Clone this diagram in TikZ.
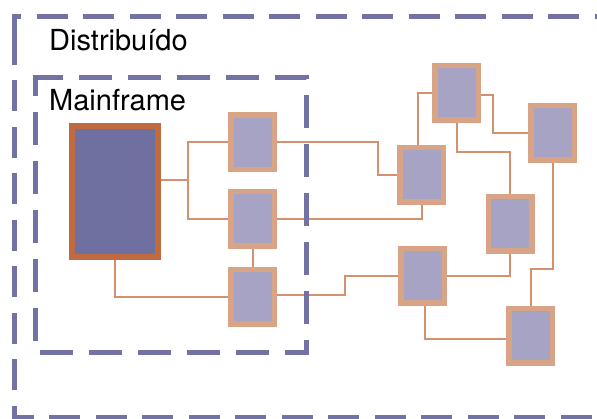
\documentclass[tikz,border=0pt]{standalone}
\usepackage{fontspec}
\setmainfont{TeX Gyre Heros}
\pgfdeclarelayer{bg}
\pgfsetlayers{bg,main}
\definecolor{dashc}{HTML}{7373A3}
\definecolor{mfborder}{HTML}{C06A40}
\definecolor{mffill}{HTML}{7070A0}
\definecolor{boxborder}{HTML}{D9A486}
\definecolor{boxfill}{HTML}{A6A3C4}
\definecolor{linkc}{HTML}{D4906F}
\tikzset{
  mfbox/.style={draw=mfborder, fill=mffill, line width=6pt, minimum width=86pt, minimum height=131pt, inner sep=0pt},
  smallbox/.style={draw=boxborder, fill=boxfill, line width=5.5pt, minimum width=43.5pt, minimum height=54.5pt, inner sep=0pt},
  link/.style={draw=linkc, line width=2pt},
  outerdash/.style={draw=dashc, line width=5pt, dash pattern=on 31pt off 15.5pt},
  innerdash/.style={draw=dashc, line width=5pt, dash pattern=on 33pt off 16pt},
  lbl/.style={anchor=base west, inner sep=0pt, font=\fontsize{29}{34}\selectfont}
}
\begin{document}
\begin{tikzpicture}[x=1pt, y=-1pt]
\useasboundingbox (0,0) rectangle (597,418);
\clip (0,0) rectangle (597,418);
% dashed containers
\draw[outerdash] (14,40) -- (14,16) -- (625,16) -- (625,417) -- (14,417) -- cycle;
\draw[innerdash] (35,82) -- (35,77) -- (306,77) -- (306,352) -- (35,352) -- cycle;
% labels
\node[lbl] (ldist) at (49,50) {Distribuído};
\node[lbl] (lmain) at (49,110) {Mainframe};
% boxes
\node[mfbox] (MF) at (115,191.5) {};
\node[smallbox] (B1) at (252.5,142) {};
\node[smallbox] (B2) at (252.5,218.5) {};
\node[smallbox] (B3) at (252.5,296.5) {};
\node[smallbox] (B4) at (456.5,92.5) {};
\node[smallbox] (B5) at (552.5,132.5) {};
\node[smallbox] (B6) at (421.5,174.5) {};
\node[smallbox] (B7) at (510,223.5) {};
\node[smallbox] (B8) at (422.5,275.5) {};
\node[smallbox] (B9) at (530.5,335.5) {};
% junction coordinates
\coordinate (j1) at (188,180);
\coordinate (c1) at (378,160);
\coordinate (c2) at (345,285);
\coordinate (c3) at (541,269);
\coordinate (c4) at (493,110);
\coordinate (c5) at (480,152);
\begin{pgfonlayer}{bg}
\draw[link] (MF.east |- j1) -- (j1);
\draw[link] (B1.west) -| (j1) |- (B2.west);
\draw[link] (B1.east) -| (c1) |- (B6.west);
\draw[link] (B2.east) -| (B6.south);
\draw[link] (B2.south) -- (B3.north);
\draw[link] (MF.south) |- (B3.west);
\draw[link] ([yshift=2pt]B3.east) -| (c2) |- (B8.west);
\draw[link] (B8.east) -| (B7.south);
\draw[link] ([xshift=2.5pt]B8.south) |- ([yshift=-3pt]B9.west);
\draw[link] (B5.south) |- (c3) -| (B9.north);
\draw[link] ([xshift=-3.5pt]B6.north) |- (B4.west);
\draw[link] ([yshift=-2.5pt]B4.east) -| (c4) |- (B5.west);
\draw[link] (B4.south) |- (c5) -| (B7.north);
\end{pgfonlayer}
\end{tikzpicture}
\end{document}
